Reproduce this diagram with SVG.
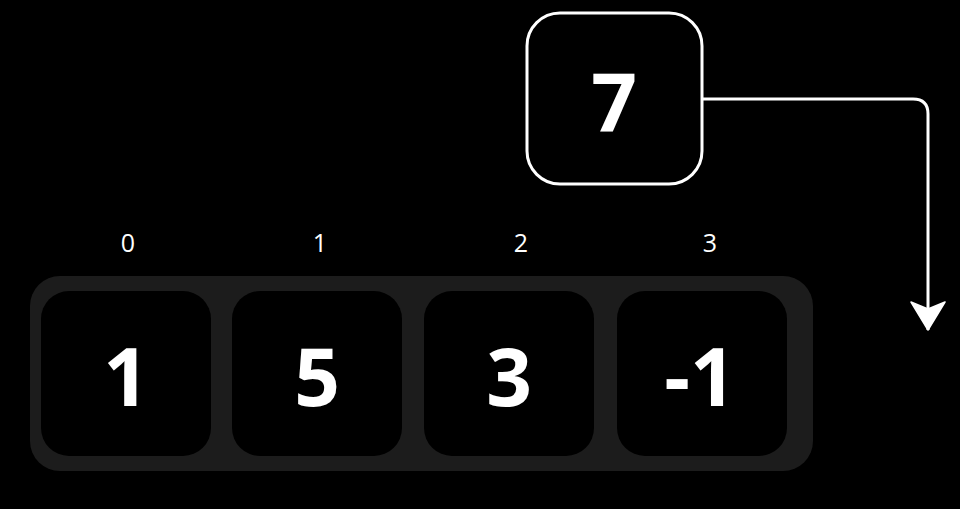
<svg xmlns="http://www.w3.org/2000/svg" width="960" height="509" viewBox="0 0 960 509">
<defs>
<style>
.big{font-family:"Open Sans","Noto Sans",sans-serif;font-weight:700;font-size:80px;fill:#fff;text-anchor:middle}
.idx{font-family:"Open Sans","Noto Sans",sans-serif;font-size:25px;fill:#fff;text-anchor:middle}
.cell{fill:#000}
.edge{fill:none;stroke:#fff;stroke-width:3}
</style>
<marker id="arrow" markerUnits="userSpaceOnUse" markerWidth="40" markerHeight="40" refX="30" refY="18" orient="auto">
<path d="M30,18 L2,1 L9,18 L2,35 Z" fill="#fff" stroke="#fff" stroke-width="1.5" stroke-linejoin="round"/>
</marker>
</defs>
<rect width="960" height="509" fill="#000"/>
<g id="array">
<rect x="30" y="276" width="783" height="195" rx="30" fill="#1c1c1c"/>
</g>
<g id="cell0"><rect class="cell" x="41" y="291" width="170" height="165" rx="28"/><text class="big" x="126" y="406">1</text><text class="idx" x="128" y="252">0</text></g>
<g id="cell1"><rect class="cell" x="232" y="291" width="170" height="165" rx="28"/><text class="big" x="317" y="406">5</text><text class="idx" x="320" y="252">1</text></g>
<g id="cell2"><rect class="cell" x="424" y="291" width="170" height="165" rx="28"/><text class="big" x="509" y="406">3</text><text class="idx" x="521" y="252">2</text></g>
<g id="cell3"><rect class="cell" x="617" y="291" width="170" height="165" rx="28"/><text class="big" x="700" y="406">-1</text><text class="idx" x="710" y="252">3</text></g>
<g id="value">
<rect x="527" y="13" width="175" height="171" rx="33" fill="#000" stroke="#fff" stroke-width="3"/>
<text class="big" x="614" y="131">7</text>
</g>
<g id="connectors">
<path class="edge" d="M703,99 H913 Q928,99 928,114 V330" marker-end="url(#arrow)"/>
</g>
</svg>
